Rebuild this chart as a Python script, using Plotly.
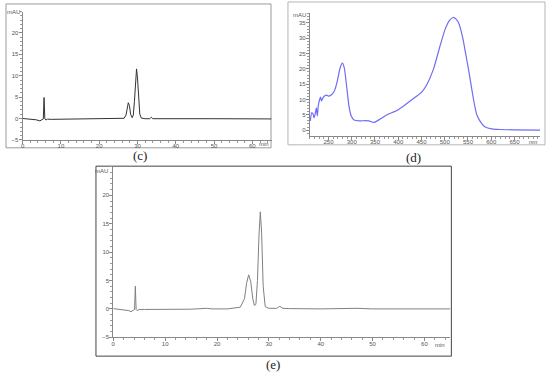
import plotly.graph_objects as go

W, H = 550, 376

# ---- data: panel (c) chromatogram ----
c_time = [0, 2, 3.5, 4.5, 5.0, 5.4, 5.6, 5.8, 6.1, 6.5, 7.5, 12, 20, 25, 26.5, 27.0, 27.3, 27.6,
          27.9, 28.2, 28.6, 28.9, 29.2, 29.5, 29.75, 30.0, 30.3, 30.6, 31.0, 32.0, 33.2, 33.6,
          34.0, 40, 50, 65]
c_mau = [0, -0.1, -0.3, -0.55, -0.2, -0.1, 4.9, -0.1, -0.35, -0.15, -0.2, -0.15, -0.15, -0.1,
         0.05, 0.8, 2.4, 3.7, 3.0, 1.0, 0.2, 0.8, 4.0, 9.5, 11.6, 9.5, 4.0, 1.0, 0.1, -0.05,
         -0.05, 0.3, -0.05, -0.1, -0.05, -0.1]

# ---- data: panel (d) UV-Vis spectrum ----
d_nm = [211, 214, 217, 219, 222, 224, 226, 228, 231, 233, 235, 239, 246, 251, 259, 264, 269, 275,
        280, 284, 289, 294, 299, 305, 316, 330, 337, 348, 360, 376, 398, 415, 430, 451, 462, 476,
        489, 501, 510, 518, 525, 530, 539, 545, 551, 562, 569, 580, 587, 601, 619, 648, 705]
d_mau = [3, 5.7, 5.2, 4, 5.7, 7.3, 4.6, 7.9, 10, 10.8, 9.5, 10.8, 11.4, 11.1, 11.9, 13.3, 16, 20.3,
         21.9, 20.3, 14.4, 7.9, 4.6, 3.3, 3.0, 3.1, 3.0, 2.5, 3.5, 5.0, 6.5, 8.3, 10.0, 12.5, 15,
         20, 27, 33, 35.8, 36.8, 36.2, 35, 30, 25, 20, 10, 5, 2, 1, 0.4, 0.2, 0.1, 0.0]

# ---- data: panel (e) chromatogram ----
e_time = [0, 2, 3.0, 3.4, 3.9, 4.1, 4.25, 4.4, 4.6, 5.0, 6, 10, 15, 18, 19, 22, 24.5, 25.3, 25.7,
          26.1, 26.5, 26.9, 27.2, 27.5, 27.8, 28.1, 28.35, 28.6, 28.9, 29.3, 30, 31.5, 32.1, 32.7,
          34, 40, 47, 50, 55, 65]
e_mau = [0.05, -0.1, -0.3, -0.5, -0.2, -0.1, 4.0, -0.1, -0.3, -0.1, -0.1, -0.1, -0.05, 0.1, 0.0,
         0.0, 0.3, 1.8, 4.5, 6.0, 4.8, 1.8, 0.6, 0.8, 5.0, 13.0, 17.1, 13.5, 4.0, 0.4, 0.1, 0.1,
         0.45, 0.1, 0.05, 0.0, 0.1, 0.0, 0.0, 0.0]

chrom_xticks = [0, 10, 20, 30, 40, 50, 60]
chrom_yticks = [-5, 0, 5, 10, 15, 20]
spec_xticks = [250, 300, 350, 400, 450, 500, 550, 600, 650]
spec_yticks = [0, 5, 10, 15, 20, 25, 30, 35]


def px_x(p):
    return p / W


def px_y(p):
    return 1 - p / H


fig = go.Figure()
fig.add_trace(go.Scatter(x=c_time, y=c_mau, mode="lines", line=dict(color="#333333", width=1),
                         xaxis="x", yaxis="y", showlegend=False))
fig.add_trace(go.Scatter(x=d_nm, y=d_mau, mode="lines", line=dict(color="#6f6cf5", width=1.2, shape="spline", smoothing=0.6),
                         xaxis="x2", yaxis="y2", showlegend=False))
fig.add_trace(go.Scatter(x=e_time, y=e_mau, mode="lines", line=dict(color="#808080", width=1),
                         xaxis="x3", yaxis="y3", showlegend=False))

tickfont = dict(family="Liberation Sans, Arial", size=6, color="#555555")


def axis(domain, rng, tickvals, minor_dtick, anchor, standoff):
    return dict(domain=domain, range=rng, tickvals=tickvals, showgrid=False, zeroline=False,
                showline=True, linecolor="#888888", linewidth=1, ticks="outside", ticklen=3,
                tickcolor="#888888", tickfont=tickfont, anchor=anchor, ticklabelstandoff=standoff,
                minor=dict(dtick=minor_dtick, ticks="outside", ticklen=2, tickcolor="#999999", showgrid=False))


layout = dict(
    width=W, height=H, margin=dict(l=0, r=0, t=0, b=0),
    paper_bgcolor="white", plot_bgcolor="white",
    xaxis=axis([px_x(20.7), px_x(270.5)], [0, 65], chrom_xticks, 2, "y", -3),
    yaxis=axis([px_y(141), px_y(11.7)], [-5, 25], chrom_yticks, 1, "x", -1),
    xaxis2=axis([px_x(309), px_x(540)], [210, 705], spec_xticks, 10, "y2", -3),
    yaxis2=axis([px_y(136.7), px_y(13.3)], [-1.8, 38.2], spec_yticks, 1, "x2", -1),
    xaxis3=axis([px_x(111.7), px_x(450)], [0, 65], chrom_xticks, 2, "y3", -2),
    yaxis3=axis([px_y(340), px_y(168.3)], [-5, 25], chrom_yticks, 1, "x3", -1),
)
fig.update_layout(**layout)

# outer frames
frames = [((4, 4, 270, 149), "#9a9a9a"), ((287, 2, 545, 146), "#b5b5b5"), ((94.3, 167.5, 451, 359), "#444444")]
for (x0, y0, x1, y1), col in frames:
    fig.add_shape(type="rect", xref="paper", yref="paper", x0=px_x(x0), x1=px_x(x1), y0=px_y(y1), y1=px_y(y0),
                  line=dict(color=col, width=1), fillcolor="rgba(0,0,0,0)", layer="below")

small = dict(family="Liberation Sans, Arial", size=6, color="#555555")
serif = dict(family="Liberation Serif", size=13, color="#222")
ann = [
    ("mAU", 20, 12.5, "right", "middle", small),
    ("min", 270, 145, "right", "middle", small),
    ("mAU", 307, 15.5, "right", "middle", small),
    ("nm", 539, 143.5, "right", "middle", small),
    ("mAU", 108, 172, "right", "middle", small),
    ("min", 447, 347.5, "right", "middle", small),
    ("(c)", 139, 157, "center", "middle", serif),
    ("(d)", 413, 159, "center", "middle", serif),
    ("(e)", 272, 367, "center", "middle", serif),
]
for text, x, y, xa, ya, f in ann:
    fig.add_annotation(text=text, xref="paper", yref="paper", x=px_x(x), y=px_y(y), xanchor=xa, yanchor=ya,
                       showarrow=False, font=f)

fig.write_html("out.html", config={"displayModeBar": False},
               post_script="document.body.style.margin='0';document.body.style.padding='0';")
